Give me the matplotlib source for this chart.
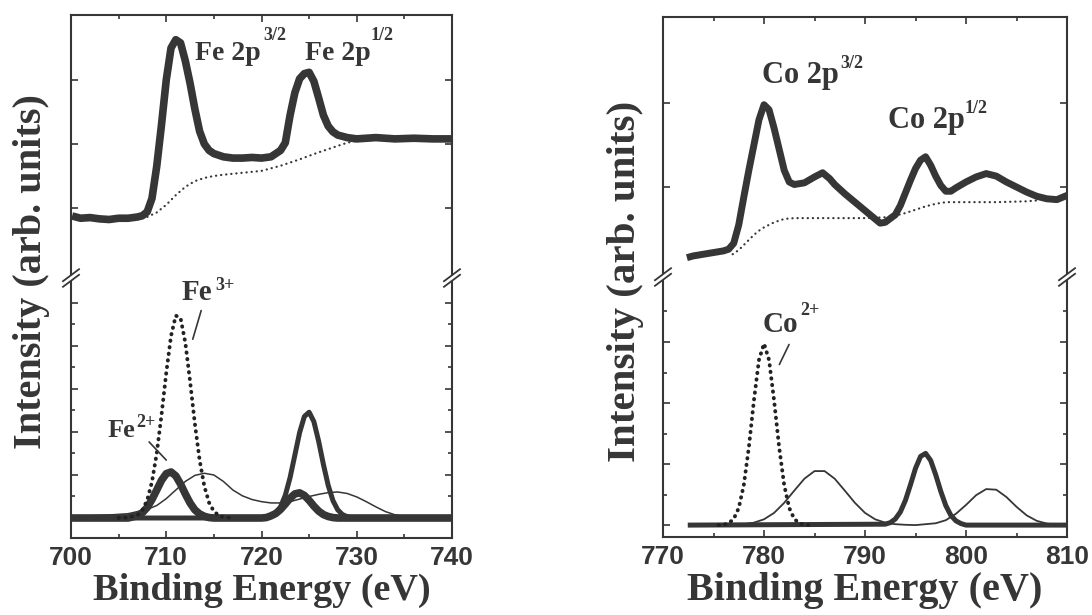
import matplotlib
matplotlib.use('Agg')
import matplotlib.pyplot as plt
from matplotlib.ticker import MultipleLocator

plt.rcParams['font.family'] = ['Liberation Serif', 'DejaVu Serif']

INK = '#363636'

# ---- Fe 2p: measured spectrum (top left) ----
fe_E = [700.5, 701, 702, 703, 704, 705, 706, 707, 707.5, 708, 708.5, 709, 709.5, 710,
        710.5, 711, 711.5, 712, 712.5, 713, 713.5, 714, 714.5, 715, 716, 717, 718, 719,
        720, 721, 722, 722.5, 723, 723.5, 724, 724.5, 725, 725.5, 726, 726.5, 727, 727.5,
        728, 729, 730, 732, 734, 736, 738, 740]
fe_I = [0.86, 0.84, 0.85, 0.83, 0.82, 0.84, 0.84, 0.86, 0.88, 0.94, 1.15, 1.65, 2.3, 3.0,
        3.5, 3.63, 3.58, 3.3, 2.95, 2.55, 2.2, 2.0, 1.9, 1.85, 1.8, 1.78, 1.78, 1.79,
        1.78, 1.8, 1.9, 2.02, 2.45, 2.8, 3.02, 3.1, 3.12, 2.98, 2.72, 2.45, 2.28, 2.19,
        2.14, 2.1, 2.08, 2.1, 2.08, 2.09, 2.08, 2.08]
# Shirley-type background
fe_bg_E = [707.5, 708, 709, 710, 711, 712, 713, 714, 715, 716, 718, 720, 722, 724, 726, 728, 729, 730]
fe_bg_I = [0.84, 0.86, 0.93, 1.05, 1.2, 1.33, 1.42, 1.47, 1.5, 1.52, 1.55, 1.58, 1.66, 1.76,
           1.87, 1.97, 2.02, 2.05]

# ---- Fe 2p: fitted components (bottom left) ----
fe3_E = [705, 706, 707, 707.5, 708, 708.5, 709, 709.5, 710, 710.5, 711, 711.5, 712, 712.5,
         713, 713.5, 714, 714.5, 715, 715.5, 716, 717]
fe3_I = [0, 0.02, 0.14, 0.37, 0.83, 1.68, 3.0, 4.78, 6.75, 8.46, 9.41, 9.3, 8.16, 6.36,
         4.4, 2.7, 1.47, 0.71, 0.31, 0.12, 0.04, 0]
fe2_E = [700, 706, 707, 707.5, 708, 708.5, 709, 709.5, 710, 710.5, 711, 711.5, 712, 712.5,
         713, 713.5, 714, 714.5, 715, 720, 720.5, 721, 721.5, 722, 722.5, 723, 723.5, 724,
         724.5, 725, 725.5, 726, 726.5, 727, 727.5, 728, 740]
fe2_I = [0, 0, 0.11, 0.25, 0.49, 0.86, 1.3, 1.75, 2.06, 2.14, 1.96, 1.58, 1.12, 0.7,
         0.38, 0.19, 0.08, 0.02, 0, 0, 0.02, 0.1, 0.21, 0.4, 0.65, 0.92, 1.12, 1.17,
         1.05, 0.82, 0.55, 0.32, 0.16, 0.07, 0.02, 0, 0]
fe3b_E = [700, 720.5, 721, 721.5, 722, 722.5, 723, 723.5, 724, 724.5, 725, 725.5, 726,
          726.5, 727, 727.5, 728, 728.5, 729, 729.5, 740]
fe3b_I = [0, 0, 0.09, 0.23, 0.52, 1.06, 1.88, 2.92, 3.97, 4.72, 4.92, 4.48, 3.57,
          2.49, 1.52, 0.81, 0.38, 0.16, 0.06, 0, 0]
fe_sat_E = [700, 702, 704, 706, 707, 708, 709, 710, 711, 712, 713, 714, 715, 716, 717, 718,
            719, 720, 721, 722, 723, 724, 725, 726, 727, 728, 729, 730, 731, 732, 733, 734,
            735, 736, 737, 740]
fe_sat_I = [0.08, 0.1, 0.14, 0.2, 0.3, 0.4, 0.58, 0.9, 1.3, 1.7, 1.98, 2.08, 2.0, 1.7, 1.3,
            1.03, 0.86, 0.76, 0.7, 0.7, 0.76, 0.88, 1.0, 1.1, 1.18, 1.21, 1.14, 0.98, 0.76,
            0.52, 0.3, 0.15, 0.06, 0.02, 0, 0]

# ---- Co 2p: measured spectrum (top right) ----
co_E = [772.7, 773, 774, 775, 776, 776.5, 777, 777.5, 778, 778.5, 779, 779.5, 780, 780.5,
        781, 781.5, 782, 782.5, 783, 784, 785, 785.8, 786.5, 787, 788, 789, 790, 791,
        791.5, 792, 793, 793.5, 794, 794.5, 795, 795.5, 796, 796.5, 797, 797.5, 798,
        798.5, 799, 800, 801, 802, 803, 804, 805, 806, 807, 808, 809, 810]
co_I = [0.17, 0.18, 0.2, 0.22, 0.24, 0.26, 0.33, 0.55, 0.88, 1.2, 1.5, 1.8, 1.98, 1.92,
        1.7, 1.45, 1.2, 1.06, 1.03, 1.05, 1.12, 1.17, 1.1, 1.03, 0.92, 0.82, 0.72, 0.62,
        0.57, 0.58, 0.67, 0.78, 0.93, 1.08, 1.22, 1.32, 1.36, 1.26, 1.13, 1.02, 0.95,
        0.95, 0.99, 1.06, 1.12, 1.16, 1.13, 1.06, 1.0, 0.94, 0.89, 0.86, 0.85, 0.9]
co_bg_E = [776.9, 777.5, 778, 778.5, 779, 779.5, 780, 781, 782, 783, 785, 790, 792, 793,
           794, 795, 796, 797, 798, 800, 803, 806, 807]
co_bg_I = [0.2, 0.25, 0.31, 0.37, 0.43, 0.48, 0.52, 0.58, 0.62, 0.63, 0.63, 0.63, 0.64,
           0.66, 0.69, 0.73, 0.77, 0.8, 0.82, 0.82, 0.82, 0.83, 0.84]

# ---- Co 2p: fitted components (bottom right) ----
co2_E = [775.5, 776, 776.5, 777, 777.5, 778, 778.5, 779, 779.5, 780, 780.5, 781, 781.5,
         782, 782.5, 783, 783.5, 784, 784.5]
co2_I = [0, 0.01, 0.06, 0.2, 0.56, 1.31, 2.55, 4.08, 5.41, 5.95, 5.41, 4.08, 2.55,
         1.31, 0.56, 0.2, 0.06, 0.01, 0]
cob_E = [772.7, 792, 792.5, 793, 793.5, 794, 794.5, 795, 795.5, 796, 796.5, 797, 797.5,
         798, 798.5, 799, 799.5, 800, 810]
cob_I = [0, 0.03, 0.08, 0.2, 0.43, 0.81, 1.32, 1.86, 2.25, 2.35, 2.12, 1.65, 1.11,
         0.64, 0.32, 0.14, 0.05, 0, 0]
co_sat_E = [772.7, 776, 778, 779, 780, 781, 782, 783, 784, 785, 786, 787, 788, 789, 790,
            791, 792, 793, 794, 795, 797, 798, 799, 800, 801, 802, 803, 804, 805, 806,
            807, 808, 809, 810]
co_sat_I = [0, 0.0, 0.03, 0.08, 0.19, 0.4, 0.73, 1.13, 1.52, 1.77, 1.77, 1.52, 1.13, 0.73,
            0.4, 0.19, 0.08, 0.03, 0.01, 0, 0.06, 0.16, 0.37, 0.66, 0.98, 1.18, 1.16, 0.92,
            0.6, 0.32, 0.14, 0.05, 0.01, 0]

fig = plt.figure(figsize=(10.92, 6.15), dpi=100)
W, H = 1092.0, 615.0


def make_axes(x0, x1, ytop, ybrk, ybot):
    top = fig.add_axes([x0 / W, 1 - ybrk / H, (x1 - x0) / W, (ybrk - ytop) / H])
    bot = fig.add_axes([x0 / W, 1 - ybot / H, (x1 - x0) / W, (ybot - ybrk) / H])
    for ax in (top, bot):
        for s in ax.spines.values():
            s.set_linewidth(1.5)
            s.set_color(INK)
        ax.tick_params(which='both', direction='in', color=INK, width=1.2,
                       left=True, right=True, labelleft=False)
        ax.tick_params(which='major', length=5)
        ax.tick_params(which='minor', length=3)
        ax.xaxis.set_major_locator(MultipleLocator(10))
        ax.xaxis.set_minor_locator(MultipleLocator(5))
    top.spines['bottom'].set_visible(False)
    bot.spines['top'].set_visible(False)
    top.tick_params(which='both', bottom=False, top=True, labelbottom=False)
    bot.tick_params(which='both', bottom=True, top=False, labelsize=19, pad=6,
                    labelcolor=INK)
    for lab in bot.get_xticklabels():
        lab.set_fontfamily('Liberation Sans')
        lab.set_fontweight('bold')
    # break marks on both spines
    hpx = ybot - ybrk
    wpx = x1 - x0
    for xs in (0, 1):
        dx, dy = 8 / wpx, 6 / hpx
        bot.plot([xs - dx, xs + dx], [1 - dy, 1 + dy], transform=bot.transAxes,
                 color='white', lw=3, clip_on=False, zorder=10)
        for off in (-2.8 / hpx, 2.8 / hpx):
            bot.plot([xs - dx, xs + dx], [1 - dy + off, 1 + dy + off], transform=bot.transAxes,
                     color=INK, lw=1.3, clip_on=False, zorder=11)
    return top, bot


def sup_text(ax, x, y, base, xs, ys, sup, size=20, ssize=13):
    ax.text(x, y, base, fontsize=size, fontweight='bold', color=INK, va='baseline', ha='left')
    ax.text(xs, ys, sup, fontsize=ssize, fontweight='bold', color=INK, va='baseline', ha='left')


dotted = dict(ls=(0, (0.1, 1.6)), dash_capstyle='round')

# ---------- left panel: Fe ----------
ft, fb = make_axes(71, 452, 15, 278, 538)
ft.plot(fe_E, fe_I, color=INK, lw=5.5, solid_joinstyle='round')
ft.plot(fe_bg_E, fe_bg_I, color=INK, lw=1.6, ls=(0, (0.1, 2.2)), dash_capstyle='round')
ft.set_xlim(700, 740)
ft.set_ylim(-0.094, 4.016)
ft.set_yticks([1, 2, 3])
sup_text(ft, 713.0, 3.31, 'Fe 2p', 720.2, 3.62, '3/2')
sup_text(ft, 724.6, 3.31, 'Fe 2p', 731.4, 3.62, '1/2')

fb.plot(fe_sat_E, fe_sat_I, color=INK, lw=1.1)
fb.plot(fe3b_E, fe3b_I, color=INK, lw=3.6, solid_joinstyle='round')
fb.plot(fe2_E, fe2_I, color=INK, lw=5.5, solid_joinstyle='round')
fb.plot(fe3_E, fe3_I, color='#222222', lw=2.8, **dotted)
fb.set_xlim(700, 740)
fb.set_ylim(-0.93, 11.16)
fb.set_yticks([2, 4, 6, 8, 10])
fb.set_yticks([1, 3, 5, 7, 9], minor=True)
sup_text(fb, 711.65, 10.14, 'Fe', 715.1, 10.6, '3+', size=21)
sup_text(fb, 703.8, 3.77, 'Fe', 706.9, 4.25, '2+', size=19)
fb.annotate('', xy=(712.7, 8.19), xytext=(713.75, 9.77),
            arrowprops=dict(arrowstyle='-', color=INK, lw=1.2))
fb.annotate('', xy=(710.2, 2.6), xytext=(708.0, 3.63),
            arrowprops=dict(arrowstyle='-', color=INK, lw=1.2))
fb.set_xlabel('Binding Energy (eV)', fontsize=27.5, fontweight='bold', color=INK, labelpad=2)

# ---------- right panel: Co ----------
ct, cb = make_axes(663, 1067, 17, 277, 537)
ct.plot(co_E, co_I, color=INK, lw=5, solid_joinstyle='round')
ct.plot(co_bg_E, co_bg_I, color=INK, lw=1.6, ls=(0, (0.1, 2.2)), dash_capstyle='round')
ct.set_xlim(770, 810)
ct.set_ylim(-0.071, 3.024)
ct.set_yticks([1, 2])
sup_text(ct, 779.8, 2.24, 'Co 2p', 787.6, 2.42, '3/2', size=22)
sup_text(ct, 792.3, 1.70, 'Co 2p', 799.9, 1.88, '1/2', size=22)

cb.plot(co_sat_E, co_sat_I, color=INK, lw=1.3)
cb.plot(cob_E, cob_I, color=INK, lw=3.6, solid_joinstyle='round')
cb.plot(co2_E, co2_I, color='#222222', lw=2.8, **dotted)
cb.set_xlim(770, 810)
cb.set_ylim(-0.39, 8.13)
cb.set_yticks([0, 2, 4, 6])
cb.set_yticks([1, 3, 5, 7], minor=True)
sup_text(cb, 779.9, 6.33, 'Co', 783.6, 6.89, '2+', size=21)
cb.annotate('', xy=(781.4, 5.18), xytext=(782.6, 6.0),
            arrowprops=dict(arrowstyle='-', color=INK, lw=1.2))
cb.set_xlabel('Binding Energy (eV)', fontsize=29, fontweight='bold', color=INK, labelpad=2)

fig.text(32 / W, 1 - 272 / H, 'Intensity (arb. units)', rotation=90, fontsize=29,
         fontweight='bold', color=INK, ha='center', va='center')
fig.text(625 / W, 1 - 281 / H, 'Intensity (arb. units)', rotation=90, fontsize=29.5,
         fontweight='bold', color=INK, ha='center', va='center')

fig.savefig('out.png', dpi=100)
